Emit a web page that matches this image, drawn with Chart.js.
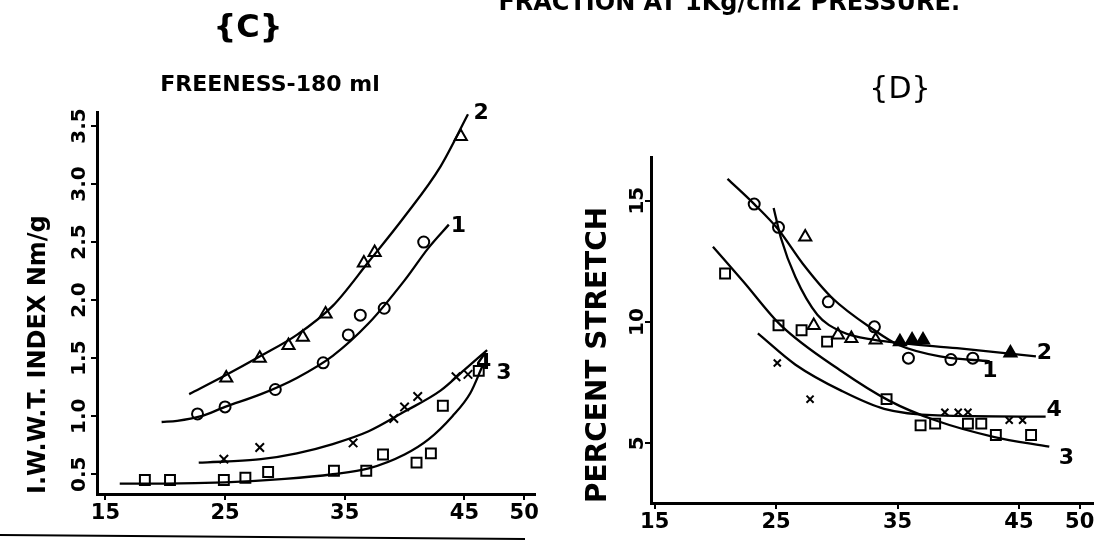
<!DOCTYPE html>
<html lang="en">
<head>
<meta charset="UTF-8">
<title>Freeness 180 ml</title>
<script src="https://cdn.jsdelivr.net/npm/chart.js@4.4.0/dist/chart.umd.min.js"></script>
<style>
  body { margin: 0; background: #fff; }
  #wrap { position: relative; width: 1106px; height: 544px; overflow: hidden; background: #fff; }
  canvas { position: absolute; left: 0; top: 0; }
</style>
</head>
<body>
<div id="wrap">
  <canvas id="chartC" width="1106" height="544"></canvas>
  <canvas id="chartD" width="1106" height="544"></canvas>
</div>
<script>
// shared x ticks (both panels)
var xTicks = [15, 25, 35, 45, 50];

// panel (C) : I.W.W.T. index
var yTicksC = [0.5, 1.0, 1.5, 2.0, 2.5, 3.0, 3.5];
var yTickLabelsC = ['0.5', '1.0', '1.5', '2.0', '2.5', '3.0', '3.5'];
var cLine1 = [[19.7,0.95],[21,0.96],[23,1.0],[25,1.08],[28,1.19],[31,1.33],[34,1.52],[37,1.8],[40,2.17],[42,2.45],[43.7,2.65]];
var cPts1  = [[22.7,1.02],[25.0,1.08],[29.2,1.23],[33.2,1.46],[35.3,1.70],[36.3,1.87],[38.3,1.93],[41.6,2.5]];
var cLine2 = [[22,1.19],[25,1.35],[28,1.52],[31,1.70],[34,1.95],[37,2.33],[40,2.72],[43,3.15],[45.3,3.6]];
var cPts2  = [[25.1,1.33],[27.9,1.5],[30.3,1.61],[31.5,1.68],[33.4,1.88],[36.6,2.32],[37.5,2.41],[44.7,3.41]];
var cLine3 = [[16.2,0.42],[20,0.42],[25,0.43],[30,0.46],[34,0.5],[37,0.55],[40,0.67],[42,0.8],[44,1.0],[45.5,1.2],[46.5,1.43]];
var cPts3  = [[18.3,0.45],[20.4,0.45],[24.9,0.45],[26.7,0.47],[28.6,0.52],[34.1,0.53],[36.8,0.53],[38.2,0.67],[41.0,0.6],[42.2,0.68],[43.2,1.09],[46.2,1.39]];
var cLine4 = [[22.8,0.6],[25,0.61],[28,0.63],[31,0.68],[34,0.76],[37,0.87],[40,1.04],[43,1.22],[45,1.4],[46.9,1.57]];
var cPts4  = [[24.9,0.63],[27.9,0.73],[35.7,0.77],[39.1,0.98],[40.0,1.08],[41.1,1.17],[44.3,1.34],[45.3,1.36]];
var cCurveLabels = [['1',44.5,2.64],['2',46.4,3.61],['3',48.3,1.37],['4',46.6,1.46]];

// panel (D) : percent stretch
var yTicksD = [5, 10, 15];
var yTickLabelsD = ['5', '10', '15'];
var dLine1 = [[21.0,15.9],[23.2,14.86],[25.2,13.8],[27.2,12.4],[29.6,11.0],[33.1,9.66],[35.1,9.05],[38.5,8.58],[42.6,8.38]];
var dPts1  = [[23.2,14.86],[25.2,13.9],[29.3,10.83],[33.1,9.8],[35.9,8.51],[39.4,8.45],[41.2,8.51]];
var dLine2 = [[24.8,14.7],[25.4,13.46],[26.6,11.84],[28.4,10.3],[30.4,9.6],[33.1,9.26],[35.5,9.12],[39.9,8.92],[46.4,8.58]];
var dPts2  = [[27.4,13.5],[28.1,9.86],[30.1,9.46],[31.2,9.32],[33.2,9.26],[35.2,9.19],[36.2,9.26],[37.1,9.26],[44.3,8.72]];
var dPts2Filled = [false,false,false,false,false,true,true,true,true];
var dLine3 = [[19.8,13.1],[22.3,11.67],[25.4,9.86],[30.4,7.97],[34.3,6.76],[38.1,5.95],[42.9,5.27],[47.5,4.86]];
var dPts3  = [[20.8,12.0],[25.2,9.86],[27.1,9.66],[29.2,9.19],[34.1,6.82],[36.9,5.74],[38.1,5.81],[40.8,5.81],[41.9,5.81],[43.1,5.34],[46.0,5.34]];
var dLine4 = [[23.5,9.53],[26.6,8.24],[30.4,7.16],[33.9,6.42],[38.3,6.15],[47.2,6.1]];
var dPts4  = [[25.1,8.31],[27.8,6.82],[38.9,6.28],[40.0,6.28],[40.8,6.28],[44.2,5.95],[45.3,5.95]];
var dCurveLabels = [['1',42.6,7.97],['2',47.1,8.72],['3',48.9,4.39],['4',47.9,6.35]];

var FONT = '"DejaVu Sans", "Liberation Sans", sans-serif';

function xy(arr) { return arr.map(function (p) { return {x: p[0], y: p[1]}; }); }

function curve(arr) {
    return {
        type: 'line', data: xy(arr), borderColor: '#000', borderWidth: 2.3,
        pointRadius: 0, fill: false, cubicInterpolationMode: 'monotone'
    };
}
function marks(arr, style, radius, fillArr) {
    return {
        type: 'scatter', data: xy(arr), showLine: false, pointStyle: style,
        pointRadius: radius, borderColor: '#000', pointBorderWidth: 2,
        pointBackgroundColor: fillArr ? fillArr.map(function (f) { return f ? '#000' : 'rgba(0,0,0,0)'; }) : 'rgba(0,0,0,0)'
    };
}

// draws rotated y tick labels, curve numbers and free texts
var sketchText = {
    id: 'sketchText',
    afterDraw: function (chart) {
        var cfg = chart.options.plugins.sketchText;
        var ctx = chart.ctx, xs = chart.scales.x, ys = chart.scales.y;
        ctx.save();
        ctx.fillStyle = '#000';
        ctx.font = 'bold 20px ' + FONT;
        ctx.textAlign = 'center';
        ctx.textBaseline = 'middle';
        cfg.yTicks.forEach(function (v, i) {
            ctx.save();
            ctx.translate(cfg.yLabelX, ys.getPixelForValue(v));
            ctx.rotate(-Math.PI / 2);
            ctx.fillText(cfg.yLabels[i], 0, 0);
            ctx.restore();
        });
        ctx.font = 'bold 22px ' + FONT;
        cfg.curveLabels.forEach(function (l) {
            ctx.fillText(l[0], xs.getPixelForValue(l[1]), ys.getPixelForValue(l[2]));
        });
        cfg.texts.forEach(function (t) {
            ctx.font = t[3];
            ctx.textAlign = t[4];
            ctx.textBaseline = t[5];
            ctx.fillText(t[0], t[1], t[2]);
        });
        if (cfg.rule) {
            ctx.strokeStyle = '#000';
            ctx.lineWidth = 2;
            ctx.beginPath();
            ctx.moveTo(cfg.rule[0], cfg.rule[1]);
            ctx.lineTo(cfg.rule[2], cfg.rule[3]);
            ctx.stroke();
        }
        ctx.restore();
    }
};

function axisX(min, max, height) {
    return {
        type: 'linear', position: 'bottom', min: min, max: max,
        afterBuildTicks: function (s) { s.ticks = xTicks.map(function (v) { return {value: v}; }); },
        afterFit: function (s) { s.height = height; },
        grid: { display: true, drawOnChartArea: false, drawTicks: true, tickLength: 6, color: '#000', lineWidth: 2 },
        border: { display: true, color: '#000', width: 3 },
        ticks: { color: '#000', font: { family: FONT, size: 21, weight: 'bold' }, padding: 1, maxRotation: 0,
                 callback: function (v) { return String(v); } }
    };
}
function axisY(min, max, ticks, width, title, titleSize, titlePad) {
    return {
        type: 'linear', position: 'left', min: min, max: max,
        afterBuildTicks: function (s) { s.ticks = ticks.map(function (v) { return {value: v}; }); },
        afterFit: function (s) { s.width = width; },
        grid: { display: true, drawOnChartArea: false, drawTicks: true, tickLength: 6, color: '#000', lineWidth: 2 },
        border: { display: true, color: '#000', width: 3 },
        ticks: { display: false },
        title: { display: true, text: title, color: '#000', align: 'start',
                 font: { family: FONT, size: titleSize, weight: 'bold' }, padding: { top: titlePad, bottom: 0 } }
    };
}

var common = {
    responsive: false, animation: false, events: [],
    plugins: { legend: { display: false }, tooltip: { enabled: false } }
};

new Chart(document.getElementById('chartC'), {
    type: 'scatter',
    data: { datasets: [
        curve(cLine1), curve(cLine2), curve(cLine3), curve(cLine4),
        marks(cPts1, 'circle', 5.5), marks(cPts2, 'triangle', 7),
        marks(cPts3, 'rect', 7), marks(cPts4, 'crossRot', 6)
    ] },
    options: Object.assign({}, common, {
        layout: { padding: { left: 0, top: 112, right: 571, bottom: 0 } },
        scales: {
            x: axisX(14.3, 50.9, 50),
            y: axisY(0.33, 3.62, yTicksC, 97, 'I.W.W.T. INDEX Nm/g', 24, 24)
        },
        plugins: {
            legend: { display: false }, tooltip: { enabled: false },
            sketchText: {
                yLabelX: 80, yTicks: yTicksC, yLabels: yTickLabelsC, curveLabels: cCurveLabels,
                texts: [
                    ['{C}', 248, 29, 'bold 32px ' + FONT, 'center', 'middle'],
                    ['FREENESS-180 ml', 270, 85, 'bold 22px ' + FONT, 'center', 'middle']
                ],
                rule: [0, 535, 525, 539]
            }
        }
    }),
    plugins: [sketchText]
});

new Chart(document.getElementById('chartD'), {
    type: 'scatter',
    data: { datasets: [
        curve(dLine1), curve(dLine2), curve(dLine3), curve(dLine4),
        marks(dPts1, 'circle', 5.5), marks(dPts2, 'triangle', 7, dPts2Filled),
        marks(dPts3, 'rect', 7), marks(dPts4, 'crossRot', 5)
    ] },
    options: Object.assign({}, common, {
        layout: { padding: { left: 560, top: 157, right: 13, bottom: 0 } },
        scales: {
            x: axisX(14.7, 51.1, 41),
            y: axisY(2.54, 16.8, yTicksD, 91, 'PERCENT STRETCH', 28, 22)
        },
        plugins: {
            legend: { display: false }, tooltip: { enabled: false },
            sketchText: {
                yLabelX: 638, yTicks: yTicksD, yLabels: yTickLabelsD, curveLabels: dCurveLabels,
                texts: [
                    ['{D}', 900, 90, '30px ' + FONT, 'center', 'middle'],
                    ['FRACTION AT 1Kg/cm2 PRESSURE.', 960, 10, 'bold 24px ' + FONT, 'right', 'alphabetic']
                ],
                rule: null
            }
        }
    }),
    plugins: [sketchText]
});
</script>
</body>
</html>
